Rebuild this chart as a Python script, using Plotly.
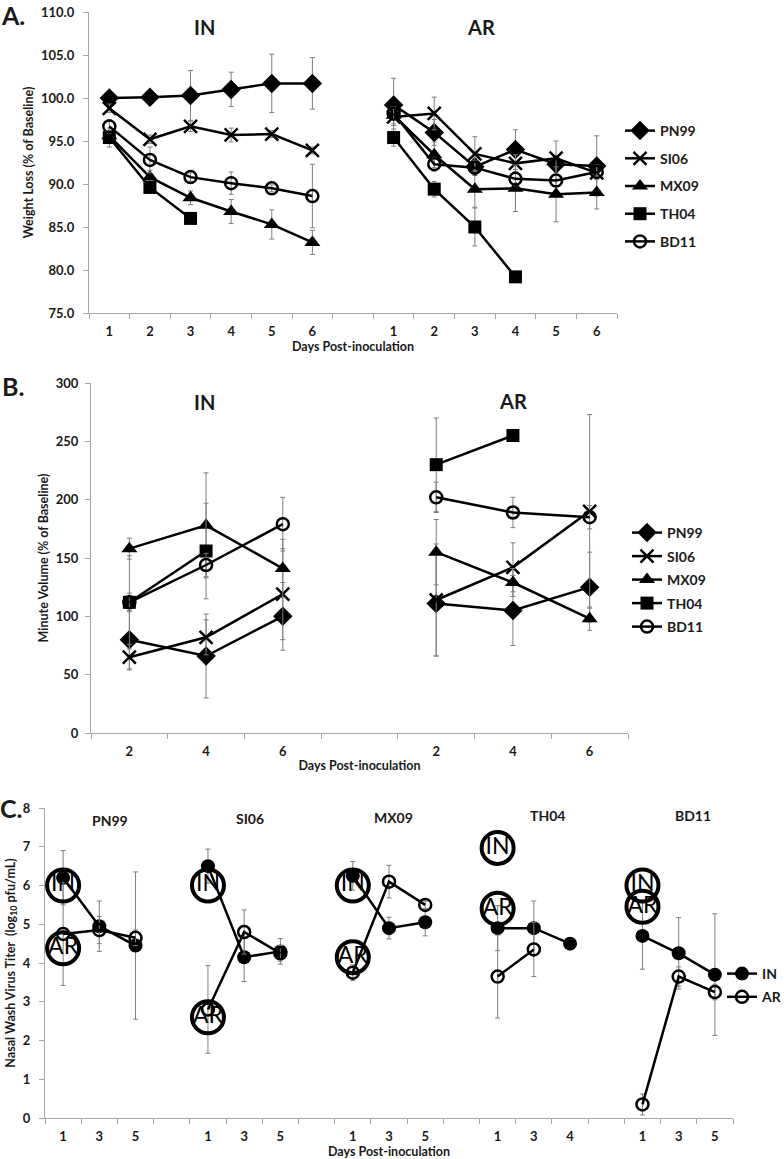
import plotly.graph_objects as go

W, H = 784, 1159
OFF = 0

# ---------------- DATA ----------------
strains = ["PN99", "SI06", "MX09", "TH04", "BD11"]

# Panel A: weight loss (% of baseline), days 1-6
days_A = [1, 2, 3, 4, 5, 6]
A_IN_PN99 = [100.0, 100.1, 100.3, 101.0, 101.7, 101.7]
A_IN_SI06 = [98.8, 95.2, 96.7, 95.7, 95.8, 93.9]
A_IN_MX09 = [95.6, 90.8, 88.4, 86.8, 85.3, 83.2]
A_IN_TH04 = [95.4, 89.6, 86.0, None, None, None]
A_IN_BD11 = [96.7, 92.8, 90.8, 90.1, 89.5, 88.6]
A_AR_PN99 = [99.2, 96.0, 92.0, 94.0, 92.3, 92.1]
A_AR_SI06 = [97.8, 98.2, 93.5, 92.4, 93.0, 91.3]
A_AR_MX09 = [98.0, 93.4, 89.4, 89.5, 88.8, 89.0]
A_AR_TH04 = [95.4, 89.4, 85.0, 79.2, None, None]
A_AR_BD11 = [98.2, 92.3, 91.9, 90.6, 90.4, 91.4]
A_IN_PN99_err = [0.3, 0.4, 2.9, 2.0, 3.4, 3.0]
A_IN_SI06_err = [0.5, 0.5, 0.6, 0.8, 0.4, 0.4]
A_IN_MX09_err = [0.6, 0.8, 0.8, 1.4, 1.7, 1.4]
A_IN_TH04_err = [1.1, 0.6, 0.4, 0, 0, 0]
A_IN_BD11_err = [0.8, 1.5, 0.5, 1.3, 0.4, 3.7]
A_AR_PN99_err = [3.1, 1.5, 1.0, 2.3, 0.9, 3.5]
A_AR_SI06_err = [1.0, 1.9, 2.0, 1.0, 2.0, 0.8]
A_AR_MX09_err = [1.0, 1.5, 2.1, 2.7, 3.2, 1.9]
A_AR_TH04_err = [1.0, 0.9, 2.2, 0, 0, 0]
A_AR_BD11_err = [0.8, 0.8, 0.8, 0.8, 0.6, 0.8]

# Panel B: minute volume (% of baseline), days 2, 4, 6
days_B = [2, 4, 6]
B_IN_PN99 = [80, 66, 100]
B_IN_SI06 = [65, 82, 119]
B_IN_MX09 = [158, 178, 141]
B_IN_TH04 = [112, 156, None]
B_IN_BD11 = [112, 144, 179]
B_AR_PN99 = [111, 105, 125]
B_AR_SI06 = [114, 142, 190]
B_AR_MX09 = [155, 129, 98]
B_AR_TH04 = [230, 255, None]
B_AR_BD11 = [202, 189, 185]
B_IN_PN99_err = [25, 36, 29]
B_IN_SI06_err = [11, 15, 39]
B_IN_MX09_err = [9, 45, 25]
B_IN_TH04_err = [40, 41, 0]
B_IN_BD11_err = [8, 10, 23]
B_AR_PN99_err = [45, 30, 30]
B_AR_SI06_err = [48, 21, 83]
B_AR_MX09_err = [28, 12, 10]
B_AR_TH04_err = [40, 0, 0]
B_AR_BD11_err = [13, 13, 10]

# Panel C: nasal wash virus titer (log10 pfu/mL)
C_days_PN99 = [1, 3, 5]
C_days_SI06 = [1, 3, 5]
C_days_MX09 = [1, 3, 5]
C_days_TH04 = [1, 3, 4]
C_days_BD11 = [1, 3, 5]
C_IN_PN99 = [6.2, 4.95, 4.45]
C_IN_SI06 = [6.5, 4.15, 4.3]
C_IN_MX09 = [6.25, 4.9, 5.05]
C_IN_TH04 = [4.9, 4.9, 4.5]
C_IN_BD11 = [4.7, 4.25, 3.7]
C_AR_PN99 = [4.75, 4.85, 4.65]
C_AR_SI06 = [2.8, 4.8, 4.25]
C_AR_MX09 = [3.75, 6.1, 5.5]
C_AR_TH04 = [3.65, 4.35, None]
C_AR_BD11 = [0.35, 3.65, 3.25]
C_IN_PN99_err = [0.7, 0.65, 1.9]
C_IN_SI06_err = [0.44, 0.63, 0.33]
C_IN_MX09_err = [0.37, 0.28, 0.35]
C_IN_TH04_err = [0.58, 0.7, 0]
C_IN_BD11_err = [0.86, 0.92, 1.57]
C_AR_PN99_err = [1.33, 0.35, 0.2]
C_AR_SI06_err = [1.13, 0.57, 0.2]
C_AR_MX09_err = [0.2, 0.42, 0.1]
C_AR_TH04_err = [1.07, 0.7, 0]
C_AR_BD11_err = [0.27, 0.25, 0.2]
# circled route labels (value positions on day 1 of each strain)
C_label_IN_y = [6.0, 6.0, 6.0, 6.97, 6.0]
C_label_AR_y = [4.38, 2.6, 4.15, 5.4, 5.45]

# ---------------- STYLE ----------------
FONT = "Lato"
TXT = "#1a1a1a"
AX = "#a6a6a6"
ERR = "#7f7f7f"
LW = 2.5

def px_x(p):
    return (p - OFF) / W

def px_y(p):
    return 1 - (p - OFF) / H

markers = {
    "PN99": dict(symbol="diamond", size=15, color="black"),
    "SI06": dict(symbol="x-thin", size=13, color="black", line=dict(width=2.5, color="black")),
    "MX09": dict(symbol="triangle-up", size=14, color="black"),
    "TH04": dict(symbol="square", size=13, color="black"),
    "BD11": dict(symbol="circle-open", size=12, color="black", line=dict(width=2.5, color="black")),
}

fig = go.Figure()

# ---------- Panel A ----------
A_IN = [A_IN_PN99, A_IN_SI06, A_IN_MX09, A_IN_TH04, A_IN_BD11]
A_AR = [A_AR_PN99, A_AR_SI06, A_AR_MX09, A_AR_TH04, A_AR_BD11]
A_IN_E = [A_IN_PN99_err, A_IN_SI06_err, A_IN_MX09_err, A_IN_TH04_err, A_IN_BD11_err]
A_AR_E = [A_AR_PN99_err, A_AR_SI06_err, A_AR_MX09_err, A_AR_TH04_err, A_AR_BD11_err]
nA = len(days_A)
xA_in = list(range(nA))
xA_ar = [nA + 1 + i for i in range(nA)]
for k, s in enumerate(strains):
    fig.add_trace(go.Scatter(
        x=xA_in + [None] + xA_ar,
        y=A_IN[k] + [None] + A_AR[k],
        mode="lines+markers", name=s,
        line=dict(color="black", width=LW),
        marker=markers[s],
        error_y=dict(type="data", array=A_IN_E[k] + [0] + A_AR_E[k], color=ERR, thickness=1, width=2.5),
        xaxis="x", yaxis="y", legend="legend", legendgroup="A" + s,
    ))

# ---------- Panel B ----------
B_IN = [B_IN_PN99, B_IN_SI06, B_IN_MX09, B_IN_TH04, B_IN_BD11]
B_AR = [B_AR_PN99, B_AR_SI06, B_AR_MX09, B_AR_TH04, B_AR_BD11]
B_IN_E = [B_IN_PN99_err, B_IN_SI06_err, B_IN_MX09_err, B_IN_TH04_err, B_IN_BD11_err]
B_AR_E = [B_AR_PN99_err, B_AR_SI06_err, B_AR_MX09_err, B_AR_TH04_err, B_AR_BD11_err]
nB = len(days_B)
xB_in = list(range(nB))
xB_ar = [nB + 1 + i for i in range(nB)]
for k, s in enumerate(strains):
    fig.add_trace(go.Scatter(
        x=xB_in + [None] + xB_ar,
        y=B_IN[k] + [None] + B_AR[k],
        mode="lines+markers", name=s,
        line=dict(color="black", width=LW),
        marker=markers[s],
        error_y=dict(type="data", array=B_IN_E[k] + [0] + B_AR_E[k], color=ERR, thickness=1, width=2.5),
        xaxis="x2", yaxis="y2", legend="legend2", legendgroup="B" + s,
    ))

# ---------- Panel C ----------
C_days = [C_days_PN99, C_days_SI06, C_days_MX09, C_days_TH04, C_days_BD11]
C_IN = [C_IN_PN99, C_IN_SI06, C_IN_MX09, C_IN_TH04, C_IN_BD11]
C_AR = [C_AR_PN99, C_AR_SI06, C_AR_MX09, C_AR_TH04, C_AR_BD11]
C_IN_E = [C_IN_PN99_err, C_IN_SI06_err, C_IN_MX09_err, C_IN_TH04_err, C_IN_BD11_err]
C_AR_E = [C_AR_PN99_err, C_AR_SI06_err, C_AR_MX09_err, C_AR_TH04_err, C_AR_BD11_err]
xC, yIN, yAR, eIN, eAR, tickvC, ticktC, grp_first = [], [], [], [], [], [], [], []
pos = 0
for k, s in enumerate(strains):
    if k > 0:
        xC.append(None); yIN.append(None); yAR.append(None); eIN.append(0); eAR.append(0)
        pos += 1
    grp_first.append(pos)
    for j, d in enumerate(C_days[k]):
        xC.append(pos); yIN.append(C_IN[k][j]); yAR.append(C_AR[k][j])
        eIN.append(C_IN_E[k][j]); eAR.append(C_AR_E[k][j])
        tickvC.append(pos); ticktC.append(str(d))
        pos += 1
nC = pos

fig.add_trace(go.Scatter(
    x=xC, y=yIN, mode="lines+markers", name="IN",
    line=dict(color="black", width=LW),
    marker=dict(symbol="circle", size=14, color="black"),
    error_y=dict(type="data", array=eIN, color=ERR, thickness=1, width=2.5),
    xaxis="x3", yaxis="y3", legend="legend3", legendgroup="CIN",
))
fig.add_trace(go.Scatter(
    x=xC, y=yAR, mode="lines+markers", name="AR",
    line=dict(color="black", width=LW),
    marker=dict(symbol="circle-open", size=12, color="black", line=dict(width=2.5, color="black")),
    error_y=dict(type="data", array=eAR, color=ERR, thickness=1, width=2.5),
    xaxis="x3", yaxis="y3", legend="legend3", legendgroup="CAR",
))
# circled route labels
fig.add_trace(go.Scatter(
    x=grp_first + grp_first,
    y=C_label_IN_y + C_label_AR_y,
    text=["IN"] * len(strains) + ["AR"] * len(strains),
    mode="markers+text", textposition="middle center",
    textfont=dict(family=FONT, size=23, color="black"),
    marker=dict(symbol="circle-open", size=32, color="black", line=dict(width=4, color="black")),
    showlegend=False, cliponaxis=False, xaxis="x3", yaxis="y3",
))

# ---------- Axes ----------
tickfont = dict(family=FONT, size=13, color=TXT, weight="bold")
titlefont = dict(family=FONT, size=12.5, color=TXT, weight="bold")

def xcat(domain, n, tv, tt, title, anchor):
    return dict(
        domain=domain, anchor=anchor, range=[-0.5, n - 0.5],
        tickvals=tv, ticktext=tt, ticks="outside", ticklen=6, tickcolor="rgba(0,0,0,0)",
        tickfont=tickfont, showline=True, linecolor=AX, linewidth=1.3,
        showgrid=False, zeroline=False,
        minor=dict(tickvals=[i - 0.5 for i in range(n + 1)], ticks="outside", ticklen=5,
                   tickcolor=AX, tickwidth=1, showgrid=False),
        title=dict(text=title, font=titlefont, standoff=3),
    )

def yax(domain, rng, dtick, fmt, title, anchor, so):
    return dict(
        domain=domain, anchor=anchor, range=rng, dtick=dtick, tickformat=fmt,
        ticks="outside", ticklen=5, tickcolor=AX, tickfont=tickfont, ticklabelstandoff=so,
        showline=True, linecolor=AX, linewidth=1.3, showgrid=False, zeroline=False,
        title=dict(text=title, font=titlefont, standoff=4),
    )

ttA = [str(d) for d in days_A] * 2
ttB = [str(d) for d in days_B] * 2

legfont = dict(family=FONT, size=14, color=TXT, weight="bold")
layout = dict(
    width=W, height=H, margin=dict(l=0, r=0, t=0, b=0, autoexpand=False),
    paper_bgcolor="white", plot_bgcolor="white",
    font=dict(family=FONT, color=TXT),
    xaxis=xcat([px_x(89), px_x(617)], 2 * nA + 1, xA_in + xA_ar, ttA, "Days Post-inoculation", "y"),
    yaxis=yax([px_y(313), px_y(12)], [75, 110], 5, ".1f", "Weight Loss (% of Baseline)", "x", 6),
    xaxis2=xcat([px_x(91), px_x(628)], 2 * nB + 1, xB_in + xB_ar, ttB, "Days Post-inoculation", "y2"),
    yaxis2=yax([px_y(733), px_y(383)], [0, 300], 50, "d", "Minute Volume (% of Baseline)", "x2", 4),
    xaxis3=xcat([px_x(45), px_x(733)], nC, tickvC, ticktC, "Days Post-inoculation", "y3"),
    yaxis3=yax([px_y(1118), px_y(808)], [0, 8], 1, "d",
               "Nasal Wash Virus Titer  (log<sub>10</sub> pfu/mL)", "x3", 6),
    legend=dict(x=px_x(620), y=px_y(115), xanchor="left", yanchor="top", font=legfont,
                tracegroupgap=6.5, bgcolor="rgba(0,0,0,0)", itemwidth=30),
    legend2=dict(x=px_x(627), y=px_y(517), xanchor="left", yanchor="top", font=legfont,
                 tracegroupgap=2.3, bgcolor="rgba(0,0,0,0)", itemwidth=30),
    legend3=dict(x=px_x(722), y=px_y(958), xanchor="left", yanchor="top", font=legfont,
                 tracegroupgap=2, bgcolor="rgba(0,0,0,0)", itemwidth=30),
)
fig.update_layout(**layout)

def ann(x, y, text, size):
    fig.add_annotation(x=px_x(x), y=px_y(y), xref="paper", yref="paper", text=text,
                       showarrow=False, xanchor="center", yanchor="middle",
                       font=dict(family=FONT, size=size, color=TXT, weight="bold"))

ann(13, 15, "A.", 25)
ann(13, 386, "B.", 25)
ann(11, 808, "C.", 25)
ann(204, 27, "IN", 20)
ann(481, 27, "AR", 20)
ann(204, 402, "IN", 20)
ann(513, 401, "AR", 20)
c_title_x = [110, 250, 393, 547, 693]
c_title_y = [820, 818, 817, 815, 815]
for k, s in enumerate(strains):
    ann(c_title_x[k], c_title_y[k], s, 14)

fig.write_html("out.html", config={"displayModeBar": False},
               post_script="document.body.style.margin='0';")
